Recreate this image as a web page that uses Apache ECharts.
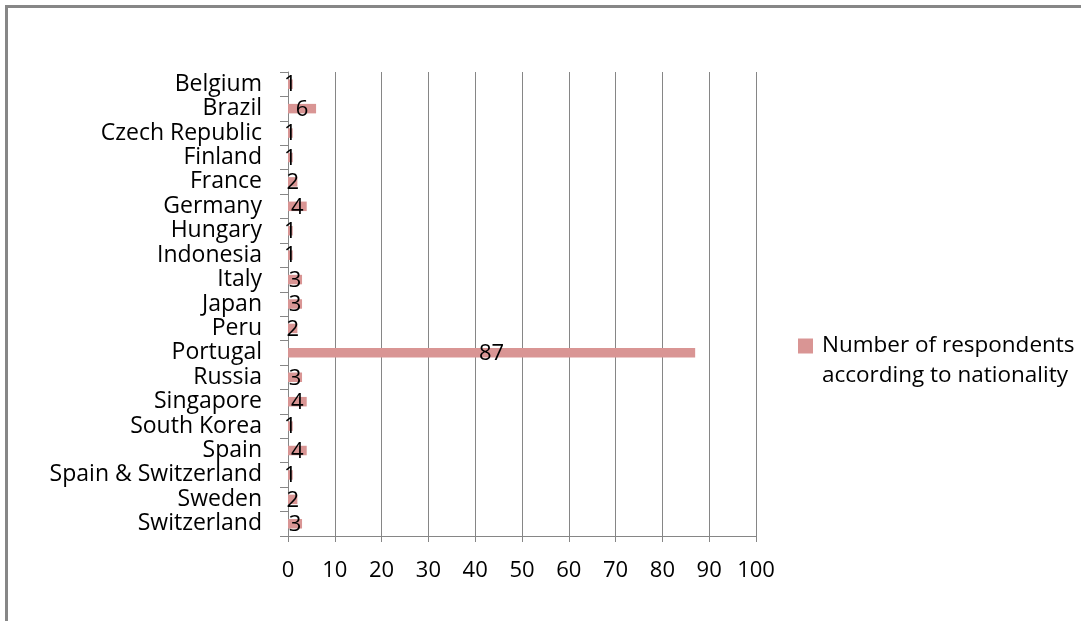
<!DOCTYPE html>
<html>
<head>
<meta charset="utf-8">
<script src="https://cdn.jsdelivr.net/npm/echarts@6/dist/echarts.min.js"></script>
<style>
  html, body { margin: 0; padding: 0; background: #fff; }
  #chart { width: 1081px; height: 621px; }
</style>
</head>
<body>
<div id="chart"></div>
<script>
// Respondents per nationality
const countries = [
  'Belgium', 'Brazil', 'Czech Republic', 'Finland', 'France', 'Germany',
  'Hungary', 'Indonesia', 'Italy', 'Japan', 'Peru', 'Portugal', 'Russia',
  'Singapore', 'South Korea', 'Spain', 'Spain & Switzerland', 'Sweden',
  'Switzerland'
];
const respondents = [1, 6, 1, 1, 2, 4, 1, 1, 3, 3, 2, 87, 3, 4, 1, 4, 1, 2, 3];
const seriesName = 'Number of respondents according to nationality';
const legendLines = ['Number of respondents', 'according to nationality'];
const xTicks = { min: 0, max: 100, interval: 10 };

const FONT = '"Open Sans"';
const GRAY = '#868686';

const chart = echarts.init(document.getElementById('chart'), null, { renderer: 'canvas' });

chart.setOption({
  animation: false,
  backgroundColor: '#ffffff',
  textStyle: { fontFamily: FONT, color: '#000' },
  // frame: left and top edges only
  graphic: [{
    type: 'polyline',
    shape: { points: [[6.5, 700], [6.5, 6.5], [1200, 6.5]] },
    style: { fill: 'none', stroke: '#878787', lineWidth: 3 },
    silent: true
  }],
  grid: { left: 288, right: 325, top: 72, bottom: 85, containLabel: false },
  legend: {
    left: 798,
    top: 301,
    padding: 0,
    orient: 'vertical',
    itemWidth: 15,
    itemHeight: 15,
    icon: 'rect',
    data: [seriesName],
    // a blank first line keeps the marker level with the first text line
    formatter: () => ' \n' + legendLines.join('\n'),
    textStyle: {
      fontFamily: FONT,
      fontSize: 22.5,
      color: '#000',
      lineHeight: 30,
      padding: [0, 0, 0, 4]
    }
  },
  xAxis: {
    type: 'value',
    min: xTicks.min,
    max: xTicks.max,
    interval: xTicks.interval,
    axisLine: { show: true, lineStyle: { color: GRAY, width: 1 } },
    axisTick: { show: true, length: 6, lineStyle: { color: GRAY } },
    splitLine: { show: true, lineStyle: { color: GRAY, width: 1 } },
    axisLabel: { fontFamily: FONT, fontSize: 22, color: '#000', margin: 24 }
  },
  yAxis: {
    type: 'category',
    inverse: true,
    data: countries,
    axisLine: { show: true, lineStyle: { color: GRAY, width: 1 } },
    axisTick: { show: true, length: 8, lineStyle: { color: GRAY } },
    splitLine: { show: false },
    axisLabel: {
      fontFamily: FONT, fontSize: 23, color: '#000', margin: 26, interval: 0,
      padding: [4, 0, 0, 0]
    }
  },
  series: [{
    name: seriesName,
    type: 'bar',
    data: respondents,
    barWidth: 9.5,
    itemStyle: { color: '#d99594' },
    label: {
      show: true,
      position: 'inside',
      color: '#000',
      fontFamily: FONT,
      fontSize: 22,
      offset: [0, 1]
    }
  }]
});
</script>
</body>
</html>
